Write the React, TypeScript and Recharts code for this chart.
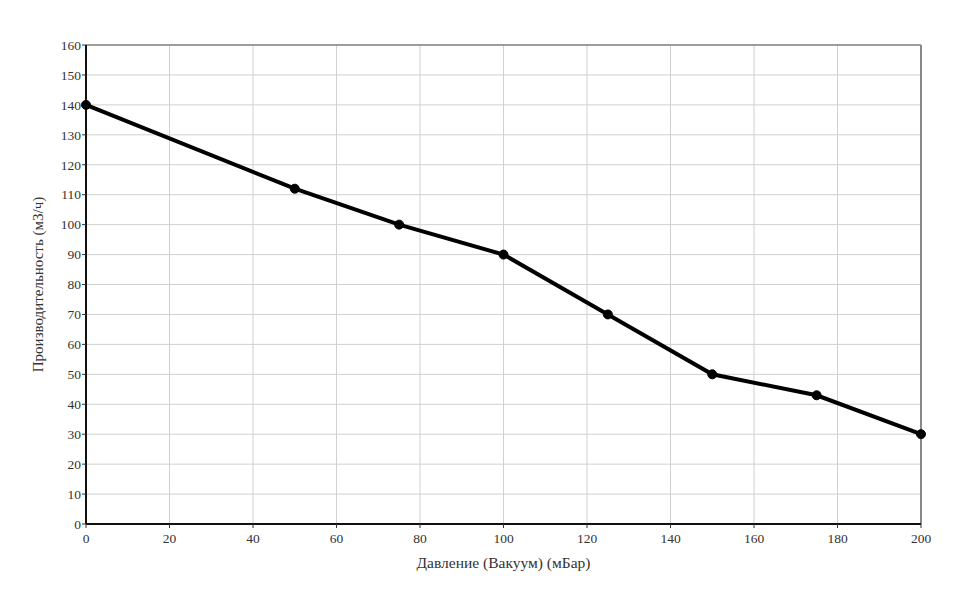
import { LineChart, Line, XAxis, YAxis, CartesianGrid, ReferenceLine } from "recharts";

const pressure = [0, 50, 75, 100, 125, 150, 175, 200];
const capacity = [140, 112, 100, 90, 70, 50, 43, 30];
const xTicks = [0, 20, 40, 60, 80, 100, 120, 140, 160, 180, 200];
const yTicks = [0, 10, 20, 30, 40, 50, 60, 70, 80, 90, 100, 110, 120, 130, 140, 150, 160];

const data = pressure.map((p, i) => ({ p, v: capacity[i] }));

const font = "'Liberation Serif', 'Times New Roman', serif";
const tickStyle = { fontSize: 13.5, fill: "#333", fontFamily: font };

export default function App() {
  return (
    <div style={{ width: 944, height: 582 }}>
      <LineChart
        width={944}
        height={582}
        data={data}
        margin={{ top: 37, right: 31, bottom: 16, left: 20 }}
      >
        <CartesianGrid stroke="#d0d0d0" strokeWidth={1} />
        <XAxis
          dataKey="p"
          type="number"
          domain={[0, 200]}
          ticks={xTicks}
          interval={0}
          axisLine={{ stroke: "#111", strokeWidth: 2 }}
          tickLine={{ stroke: "#333" }}
          tickSize={4}
          tickMargin={5}
          tick={tickStyle}
          height={50}
          label={{
            value: "Давление (Вакуум) (мБар)",
            position: "insideBottom",
            offset: 6,
            style: { fontSize: 15.5, fill: "#333", fontFamily: font },
          }}
        />
        <YAxis
          type="number"
          domain={[0, 160]}
          ticks={yTicks}
          interval={0}
          axisLine={{ stroke: "#111", strokeWidth: 2 }}
          tickLine={{ stroke: "#333" }}
          tickSize={4}
          tickMargin={1}
          tick={tickStyle}
          width={58}
          label={{
            value: "Производительность (м3/ч)",
            angle: -90,
            position: "insideLeft",
            offset: 10,
            style: { fontSize: 15, fill: "#333", fontFamily: font, textAnchor: "middle" },
          }}
        />
        <ReferenceLine y={160} stroke="#555" strokeWidth={1} />
        <ReferenceLine x={200} stroke="#888" strokeWidth={2} />
        <Line
          dataKey="v"
          stroke="#000"
          strokeWidth={4}
          dot={{ r: 4.5, fill: "#000", stroke: "#000", strokeWidth: 1 }}
          isAnimationActive={false}
        />
      </LineChart>
    </div>
  );
}
